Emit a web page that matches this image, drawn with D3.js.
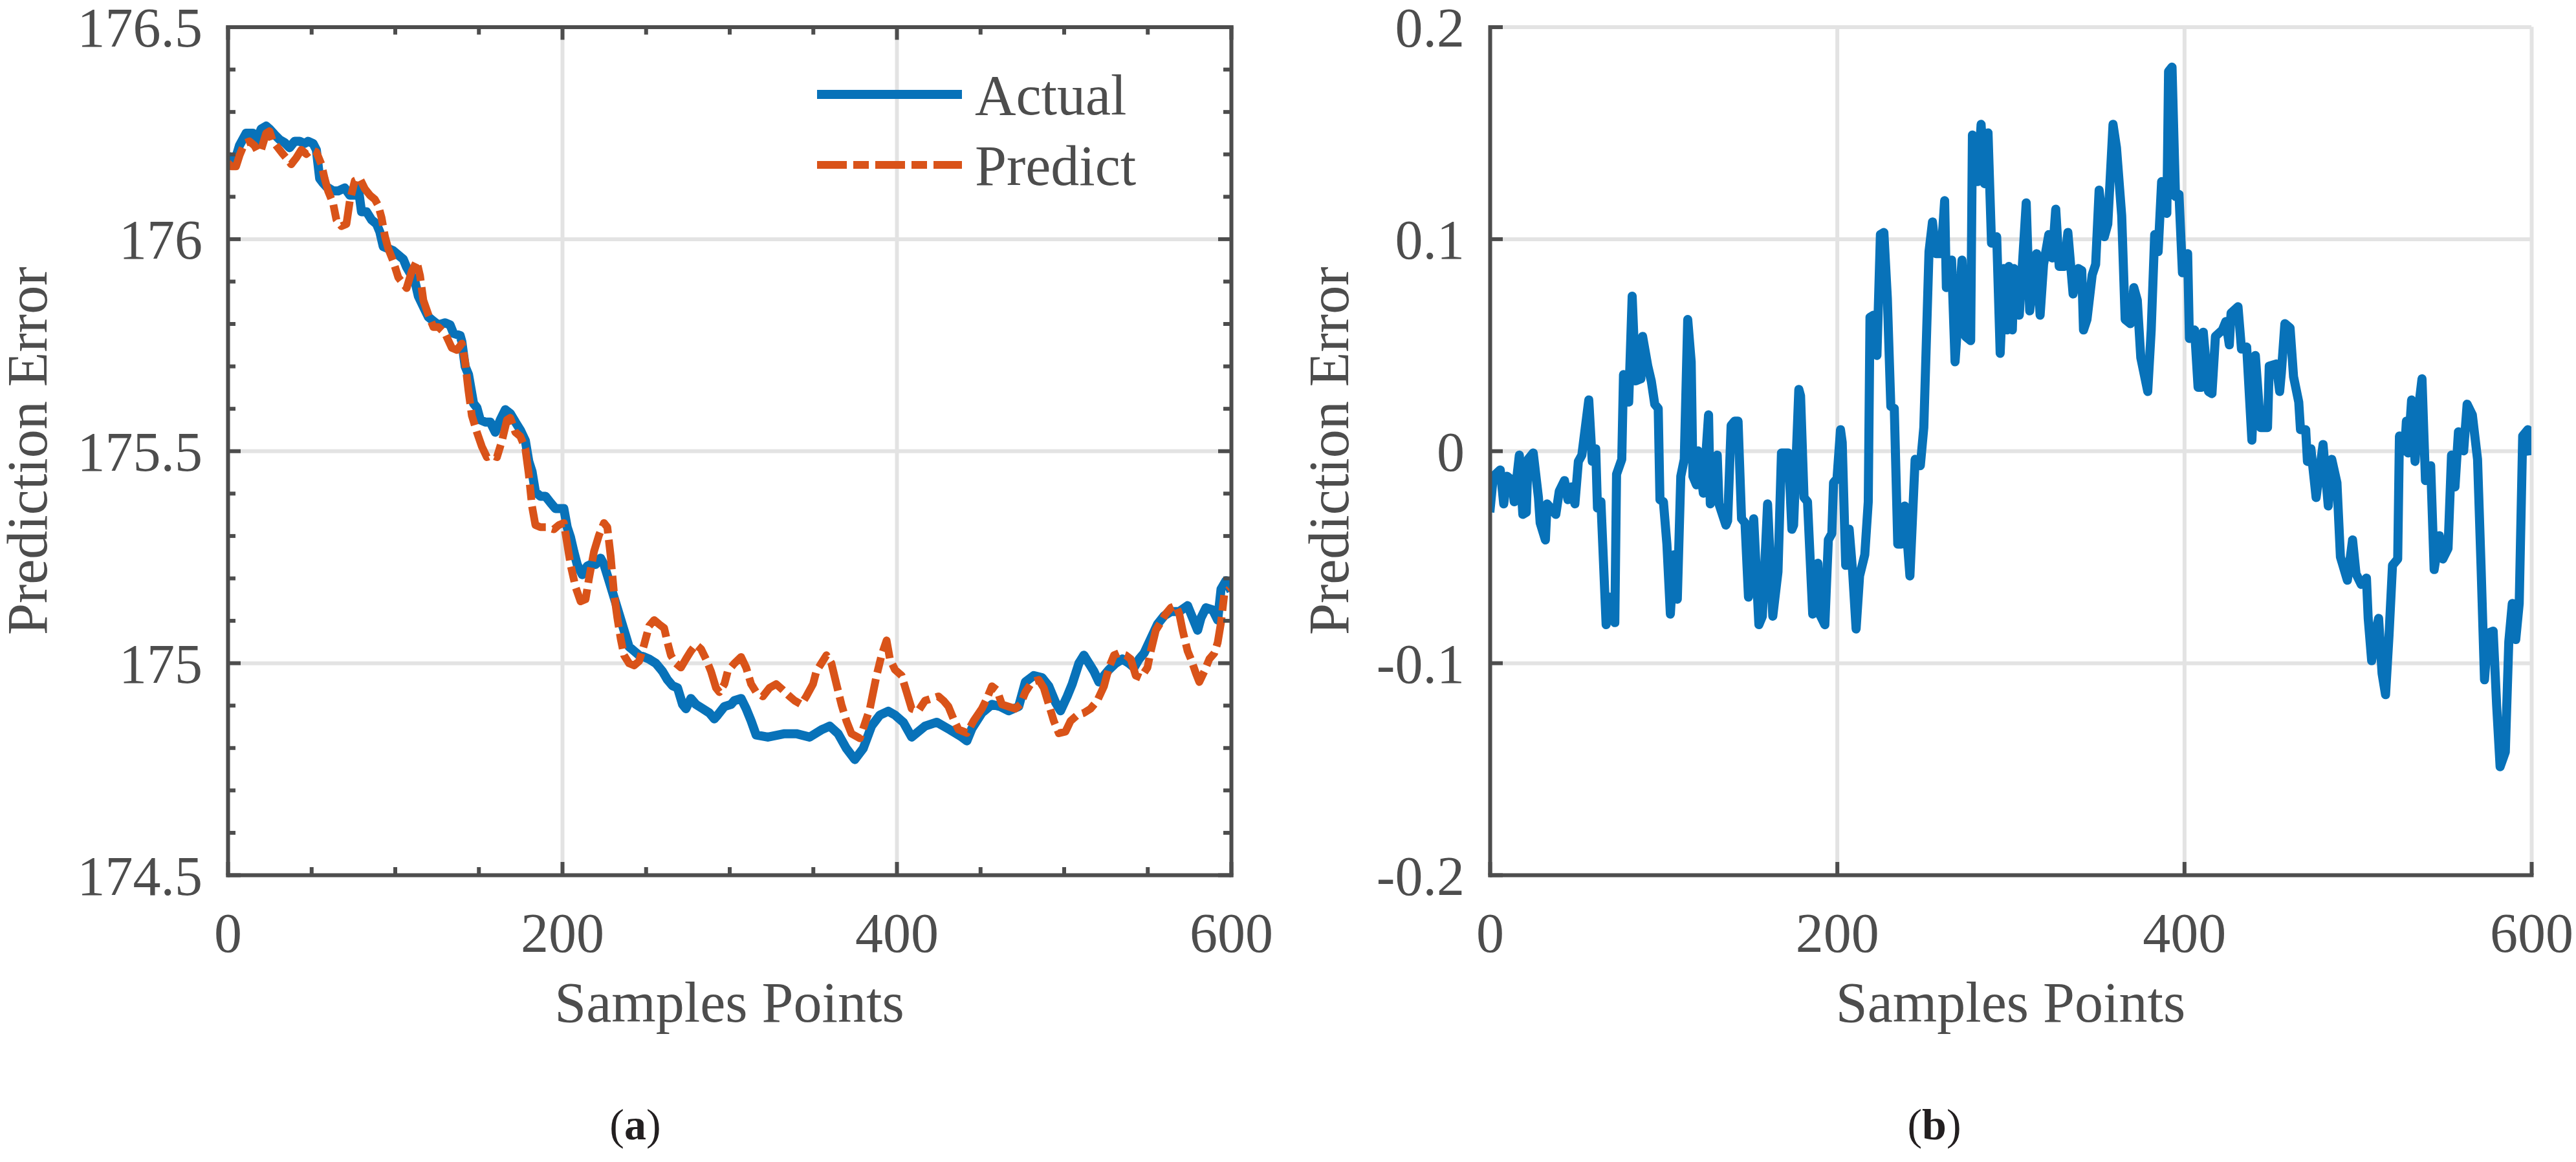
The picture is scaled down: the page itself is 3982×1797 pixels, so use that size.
<!DOCTYPE html>
<html>
<head>
<meta charset="utf-8">
<script src="https://cdn.jsdelivr.net/npm/d3@7"></script>
<style>
  body { margin: 0; background: #fff; }
  svg text { font-family: "Liberation Serif", "Times New Roman", serif; }
</style>
</head>
<body>
<div id="chart"></div>
<script>
var svgWidth = 3982;
var svgHeight = 1797;

// ---- data ----
var sampleTicks = [0, 200, 400, 600];
var sampleMinorTicks = [50, 100, 150, 250, 300, 350, 450, 500, 550];

var valueTicks = [174.5, 175, 175.5, 176, 176.5];
var valueTickLabels = ["174.5", "175", "175.5", "176", "176.5"];
var valueMinorTicks = [174.6, 174.7, 174.8, 174.9, 175.1, 175.2, 175.3, 175.4,
  175.6, 175.7, 175.8, 175.9, 176.1, 176.2, 176.3, 176.4];

var errorTicks = [-0.2, -0.1, 0, 0.1, 0.2];
var errorTickLabels = ["-0.2", "-0.1", "0", "0.1", "0.2"];

var seriesNames = ["Actual", "Predict"];

var actualSamples = [0, 2, 4, 7, 11, 15, 17, 20, 23, 25, 28, 31, 34, 37, 40, 43, 46, 48, 51, 53,
  55, 57, 59, 63, 66, 70, 73, 76, 78, 80, 83, 86, 89, 91, 93, 96, 99, 102, 105, 107,
  110, 112, 114, 117, 120, 123, 126, 130, 133, 135, 139, 140, 142, 144, 147, 149, 151, 154, 157, 160,
  163, 166, 169, 172, 175, 178, 180, 182, 184, 187, 190, 193, 196, 199, 201, 203, 205, 207, 209, 212,
  215, 217, 220, 223, 225, 228, 231, 234, 237, 240, 243, 246, 249, 252, 256, 260, 263, 266, 269, 272,
  274, 277, 280, 284, 288, 291, 293, 297, 301, 303, 307, 310, 313, 316, 323, 333, 340, 348, 355, 360,
  365, 370, 375, 380, 385, 390, 395, 399, 404, 409, 417, 424, 432, 439, 442, 445, 451, 457, 462, 467,
  473, 477, 482, 487, 491, 495, 498, 502, 505, 509, 512, 515, 518, 521, 524, 527, 531, 535, 539, 542,
  545, 548, 552, 556, 560, 564, 569, 574, 577, 580, 582, 585, 589, 592, 594, 597, 600];
var actualValues = [176.196, 176.19, 176.18, 176.22, 176.249, 176.249, 176.23, 176.259, 176.266, 176.259,
  176.246, 176.234, 176.227, 176.215, 176.23, 176.23, 176.225, 176.23, 176.225, 176.21,
  176.142, 176.132, 176.123, 176.113, 176.113, 176.12, 176.103, 176.103, 176.123, 176.064,
  176.064, 176.045, 176.035, 176.016, 175.982, 175.977, 175.972, 175.962, 175.952, 175.933,
  175.913, 175.899, 175.865, 175.84, 175.816, 175.806, 175.797, 175.802, 175.797, 175.777,
  175.772, 175.758, 175.699, 175.68, 175.612, 175.602, 175.573, 175.568, 175.568, 175.544,
  175.573, 175.597, 175.588, 175.568, 175.549, 175.524, 175.476, 175.451, 175.403, 175.393,
  175.393, 175.378, 175.364, 175.364, 175.364, 175.32, 175.296, 175.262, 175.232, 175.208,
  175.228, 175.232, 175.232, 175.247, 175.232, 175.194, 175.155, 175.116, 175.077, 175.038,
  175.028, 175.018, 175.014, 175.009, 174.999, 174.98, 174.96, 174.946, 174.941, 174.902,
  174.892, 174.916, 174.902, 174.892, 174.882, 174.868, 174.877, 174.897, 174.902, 174.911,
  174.916, 174.892, 174.863, 174.83, 174.825, 174.833, 174.833, 174.825, 174.842, 174.851,
  174.833, 174.798, 174.772, 174.798, 174.851, 174.877, 174.886, 174.877, 174.86, 174.825,
  174.851, 174.86, 174.842, 174.825, 174.816, 174.845, 174.882, 174.902, 174.897, 174.887,
  174.897, 174.955, 174.97, 174.965, 174.945, 174.907, 174.887, 174.921, 174.95, 174.999,
  175.018, 174.999, 174.98, 174.955, 174.97, 174.984, 174.999, 175.009, 174.999, 174.989,
  175.009, 175.023, 175.057, 175.091, 175.111, 175.121, 175.121, 175.135, 175.106, 175.077,
  175.106, 175.13, 175.125, 175.101, 175.174, 175.194, 175.169];

var predictSamples = [0, 2, 5, 7, 10, 13, 16, 18, 20, 23, 25, 27, 30, 33, 36, 38, 41, 44, 47, 50,
  53, 56, 58, 60, 63, 65, 68, 71, 73, 76, 79, 82, 85, 88, 90, 92, 94, 96, 99, 102,
  105, 107, 110, 113, 115, 117, 120, 123, 126, 130, 134, 137, 140, 142, 144, 146, 149, 152, 155, 158,
  161, 164, 167, 169, 172, 175, 178, 180, 182, 184, 187, 191, 195, 198, 201, 203, 205, 208, 211, 214,
  216, 219, 222, 225, 227, 229, 231, 233, 235, 237, 240, 243, 246, 249, 252, 255, 258, 261, 263, 265,
  268, 271, 274, 277, 280, 283, 286, 289, 292, 294, 297, 299, 303, 307, 310, 313, 316, 320, 324, 328,
  332, 336, 339, 343, 346, 350, 352, 355, 358, 361, 364, 367, 370, 373, 378, 384, 388, 391, 394, 396,
  399, 403, 406, 409, 413, 417, 421, 425, 428, 431, 434, 437, 442, 446, 451, 454, 457, 460, 463, 467,
  471, 474, 477, 481, 485, 488, 491, 494, 497, 501, 504, 508, 512, 516, 520, 524, 527, 530, 533, 537,
  540, 543, 546, 550, 552, 555, 558, 561, 564, 567, 569, 571, 574, 576, 579, 581, 584, 587, 590, 592,
  594, 596, 599];
var predictValues = [176.18, 176.171, 176.171, 176.196, 176.225, 176.23, 176.22, 176.205, 176.21, 176.249,
  176.254, 176.23, 176.215, 176.2, 176.186, 176.176, 176.191, 176.21, 176.2, 176.21,
  176.205, 176.176, 176.142, 176.113, 176.084, 176.045, 176.03, 176.035, 176.089, 176.137,
  176.142, 176.118, 176.103, 176.093, 176.079, 176.05, 176.006, 175.977, 175.947, 175.909,
  175.894, 175.884, 175.923, 175.947, 175.913, 175.855, 175.821, 175.792, 175.792, 175.777,
  175.743, 175.738, 175.753, 175.709, 175.641, 175.583, 175.544, 175.51, 175.485, 175.49,
  175.485, 175.524, 175.573, 175.578, 175.544, 175.534, 175.505, 175.446, 175.369, 175.325,
  175.32, 175.32, 175.315, 175.325, 175.33, 175.281, 175.232, 175.179, 175.145, 175.15,
  175.198, 175.262, 175.301, 175.33, 175.32, 175.252, 175.164, 175.106, 175.057, 175.018,
  174.999, 174.994, 175.004, 175.043, 175.087, 175.101, 175.091, 175.082, 175.048, 175.018,
  174.999, 174.989, 175.009, 175.028, 175.043, 175.033, 175.009, 174.98, 174.941, 174.931,
  174.95, 174.98, 174.999, 175.014, 174.989, 174.95, 174.931, 174.921, 174.941, 174.95,
  174.936, 174.921, 174.911, 174.902, 174.921, 174.95, 174.98, 174.999, 175.018, 174.999,
  174.95, 174.902, 174.863, 174.833, 174.822, 174.892, 174.97, 175.018, 175.053, 175.009,
  174.984, 174.97, 174.931, 174.892, 174.887, 174.911, 174.916, 174.921, 174.911, 174.897,
  174.868, 174.843, 174.835, 174.863, 174.892, 174.916, 174.945, 174.936, 174.902, 174.897,
  174.892, 174.902, 174.931, 174.955, 174.96, 174.941, 174.902, 174.863, 174.834, 174.838,
  174.863, 174.877, 174.882, 174.892, 174.911, 174.945, 174.989, 175.018, 175.023, 175.018,
  175.009, 174.97, 174.965, 174.989, 175.028, 175.077, 175.096, 175.116, 175.13, 175.135,
  175.116, 175.077, 175.028, 175.009, 174.975, 174.955, 174.98, 175.009, 175.023, 175.048,
  175.096, 175.164, 175.174];

var errorSamples = [0, 2, 6, 8, 10, 13, 14, 17, 19, 21, 22, 25, 28, 29, 32, 33, 38, 40, 43, 45,
  47, 49, 51, 53, 57, 59, 61, 62, 64, 67, 69, 72, 73, 76, 77, 80, 82, 84, 87, 88,
  91, 93, 95, 97, 98, 100, 102, 104, 106, 108, 110, 112, 114, 116, 117, 119, 120, 123, 126, 127,
  131, 132, 136, 137, 139, 141, 143, 145, 147, 149, 152, 155, 157, 160, 163, 166, 168, 172, 174, 175,
  178, 179, 181, 183, 186, 189, 190, 193, 195, 197, 198, 200, 202, 203, 205, 207, 209, 211, 213, 216,
  218, 219, 221, 223, 225, 227, 229, 231, 233, 235, 237, 239, 242, 245, 248, 250, 253, 255, 257, 260,
  262, 263, 266, 268, 272, 274, 277, 278, 281, 283, 285, 287, 289, 292, 294, 296, 298, 299, 301, 302,
  305, 309, 311, 315, 317, 319, 322, 324, 326, 328, 331, 333, 336, 339, 341, 342, 344, 347, 349, 351,
  354, 356, 359, 361, 364, 366, 369, 371, 373, 375, 379, 381, 383, 385, 387, 390, 391, 393, 395, 397,
  399, 402, 403, 406, 408, 410, 411, 414, 416, 418, 422, 424, 426, 427, 431, 433, 436, 439, 441, 444,
  448, 449, 453, 455, 456, 458, 461, 463, 466, 467, 470, 471, 473, 476, 480, 483, 485, 488, 490, 494,
  497, 499, 502, 505, 506, 508, 510, 512, 514, 516, 518, 520, 523, 524, 527, 528, 529, 531, 533, 535,
  537, 539, 542, 544, 547, 549, 552, 554, 556, 558, 561, 563, 566, 569, 571, 573, 575, 578, 580, 582,
  585, 587, 589, 591, 593, 595, 598, 600];
var errorValues = [-0.029, -0.012, -0.009, -0.025, -0.012, -0.014, -0.024, -0.002, -0.030, -0.029,
  -0.004, -0.001, -0.022, -0.034, -0.042, -0.025, -0.030, -0.019, -0.014, -0.023,
  -0.017, -0.025, -0.005, -0.002, 0.024, -0.005, 0.001, -0.027, -0.024, -0.082,
  -0.069, -0.081, -0.011, -0.004, 0.036, 0.023, 0.073, 0.033, 0.034, 0.054,
  0.040, 0.033, 0.022, 0.020, -0.023, -0.024, -0.044, -0.077, -0.049, -0.070,
  -0.012, -0.004, 0.062, 0.042, -0.012, -0.016, 0, -0.020, 0.017, -0.025,
  -0.002, -0.025, -0.035, -0.033, 0.012, 0.014, 0.014, -0.032, -0.034, -0.069,
  -0.032, -0.082, -0.078, -0.025, -0.078, -0.057, -0.001, -0.001, -0.037, -0.035,
  0.029, 0.026, -0.022, -0.024, -0.077, -0.053, -0.077, -0.082, -0.042, -0.039,
  -0.015, -0.013, 0.010, 0.004, -0.054, -0.037, -0.057, -0.084, -0.059, -0.049,
  -0.024, 0.063, 0.064, 0.045, 0.102, 0.103, 0.072, 0.021, 0.020, -0.044,
  -0.044, -0.026, -0.059, -0.004, -0.007, 0.011, 0.094, 0.108, 0.093, 0.093,
  0.118, 0.077, 0.090, 0.042, 0.090, 0.054, 0.052, 0.149, 0.127, 0.154,
  0.126, 0.150, 0.098, 0.101, 0.046, 0.086, 0.057, 0.087, 0.057, 0.086,
  0.064, 0.117, 0.066, 0.093, 0.064, 0.088, 0.102, 0.091, 0.114, 0.087,
  0.087, 0.103, 0.074, 0.086, 0.085, 0.057, 0.062, 0.083, 0.088, 0.123,
  0.101, 0.107, 0.154, 0.143, 0.111, 0.062, 0.060, 0.077, 0.071, 0.044,
  0.028, 0.057, 0.102, 0.094, 0.127, 0.112, 0.179, 0.181, 0.120, 0.121,
  0.084, 0.093, 0.053, 0.057, 0.030, 0.030, 0.056, 0.028, 0.027, 0.054,
  0.057, 0.061, 0.050, 0.065, 0.068, 0.048, 0.049, 0.005, 0.045, 0.011,
  0.011, 0.040, 0.041, 0.028, 0.037, 0.060, 0.058, 0.035, 0.023, 0.010,
  0.010, -0.005, 0.001, -0.022, 0.003, -0.026, -0.004, -0.015, -0.050, -0.061,
  -0.042, -0.058, -0.063, -0.060, -0.079, -0.099, -0.087, -0.079, -0.105, -0.115,
  -0.087, -0.054, -0.051, 0.007, 0, 0.014, -0.001, 0.024, -0.005, 0.020,
  0.034, -0.014, -0.007, -0.056, -0.040, -0.051, -0.046, -0.002, -0.017, 0.009,
  0, 0.022, 0.017, -0.004, -0.054, -0.108, -0.086, -0.085, -0.120, -0.149,
  -0.142, -0.090, -0.072, -0.089, -0.072, 0.007, 0.010, -0.002];

// ---- layout ----
var axisColor = "#4d4d4d";
var gridColor = "#e3e3e3";
var blue = "#0872b9";
var orange = "#d95319";

var panelA = {left: 352, top: 41.5, width: 1551, height: 1311.5};
var panelB = {left: 2303, top: 41.5, width: 1610, height: 1311.5};

var svg = d3.select("#chart")
  .append("svg")
  .attr("width", svgWidth)
  .attr("height", svgHeight)
  .style("display", "block");

svg.append("rect")
  .attr("width", svgWidth)
  .attr("height", svgHeight)
  .attr("fill", "#fff");

function zip(xs, ys) {
  return xs.map((s, i) => ({s: s, v: ys[i]}));
}

function styleAxis(axisGroup, fontSize) {
  axisGroup
    .attr("color", axisColor)
    .attr("font-size", fontSize);
  axisGroup.select(".domain")
    .attr("stroke-width", 6)
    .attr("stroke-linecap", "square");
  axisGroup.selectAll(".tick line")
    .attr("stroke-width", 6);
  axisGroup.selectAll(".tick text")
    .attr("fill", axisColor);
}

function drawPanel(panel, id, yDomain, yTicks, yLabels, boxed) {
  var w = panel.width;
  var h = panel.height;

  var g = svg.append("g")
    .attr("transform", `translate(${panel.left}, ${panel.top})`);

  var xScale = d3.scaleLinear().domain([0, 600]).range([0, w]);
  var yScale = d3.scaleLinear().domain(yDomain).range([h, 0]);

  // grid
  var xGrid = g.append("g")
    .attr("transform", `translate(0, ${h})`)
    .call(d3.axisBottom(xScale).tickValues(sampleTicks).tickSize(-h).tickFormat(""));
  var yGrid = g.append("g")
    .call(d3.axisLeft(yScale).tickValues(yTicks).tickSize(-w).tickFormat(""));
  [xGrid, yGrid].forEach(grid => {
    grid.select(".domain").remove();
    grid.selectAll(".tick line")
      .attr("stroke", gridColor)
      .attr("stroke-width", 6);
  });

  g.append("clipPath")
    .attr("id", "clip-" + id)
    .append("rect")
    .attr("width", w)
    .attr("height", h);

  // data goes here, below the axes
  var plotArea = g.append("g")
    .attr("clip-path", `url(#clip-${id})`);

  // axes
  var bottomAxis = g.append("g")
    .attr("transform", `translate(0, ${h})`)
    .call(d3.axisBottom(xScale).tickValues(sampleTicks)
      .tickSizeInner(-20).tickSizeOuter(0).tickPadding(58));
  styleAxis(bottomAxis, 86);

  var leftAxis = g.append("g")
    .call(d3.axisLeft(yScale).tickValues(yTicks)
      .tickFormat((d, i) => yLabels[i])
      .tickSizeInner(-20).tickSizeOuter(0).tickPadding(39));
  styleAxis(leftAxis, 86);
  leftAxis.selectAll(".tick text").attr("dy", "0.35em");

  if (boxed) {
    var topAxis = g.append("g")
      .call(d3.axisTop(xScale).tickValues(sampleTicks)
        .tickSizeInner(-20).tickSizeOuter(0).tickFormat(""));
    styleAxis(topAxis, 86);

    var rightAxis = g.append("g")
      .attr("transform", `translate(${w}, 0)`)
      .call(d3.axisRight(yScale).tickValues(yTicks)
        .tickSizeInner(-20).tickSizeOuter(0).tickFormat(""));
    styleAxis(rightAxis, 86);

    var minorAxes = [
      g.append("g").attr("transform", `translate(0, ${h})`)
        .call(d3.axisBottom(xScale).tickValues(sampleMinorTicks).tickSizeInner(-12).tickSizeOuter(0).tickFormat("")),
      g.append("g")
        .call(d3.axisTop(xScale).tickValues(sampleMinorTicks).tickSizeInner(-12).tickSizeOuter(0).tickFormat("")),
      g.append("g")
        .call(d3.axisLeft(yScale).tickValues(valueMinorTicks).tickSizeInner(-12).tickSizeOuter(0).tickFormat("")),
      g.append("g").attr("transform", `translate(${w}, 0)`)
        .call(d3.axisRight(yScale).tickValues(valueMinorTicks).tickSizeInner(-12).tickSizeOuter(0).tickFormat(""))
    ];
    minorAxes.forEach(a => {
      styleAxis(a, 86);
      a.select(".domain").remove();
    });
  }

  // x title
  g.append("text")
    .attr("x", w / 2)
    .attr("y", h + 227)
    .attr("text-anchor", "middle")
    .attr("font-size", 88)
    .attr("fill", axisColor)
    .text("Samples Points");

  return {g: g, plotArea: plotArea, x: xScale, y: yScale};
}

var chartA = drawPanel(panelA, "a", [174.5, 176.5], valueTicks, valueTickLabels, true);
var chartB = drawPanel(panelB, "b", [-0.2, 0.2], errorTicks, errorTickLabels, false);

// (a) actual vs predict
var lineA = d3.line()
  .x(d => chartA.x(d.s))
  .y(d => chartA.y(d.v));

chartA.plotArea.append("path")
  .datum(zip(actualSamples, actualValues))
  .attr("d", lineA)
  .attr("fill", "none")
  .attr("stroke", blue)
  .attr("stroke-width", 14)
  .attr("stroke-linejoin", "round");

chartA.plotArea.append("path")
  .datum(zip(predictSamples, predictValues))
  .attr("d", lineA)
  .attr("fill", "none")
  .attr("stroke", orange)
  .attr("stroke-width", 12)
  .attr("stroke-dasharray", "46,10,24,10")
  .attr("stroke-linejoin", "round");

// (b) prediction error
var lineB = d3.line()
  .x(d => chartB.x(d.s))
  .y(d => chartB.y(d.v));

chartB.plotArea.append("path")
  .datum(zip(errorSamples, errorValues))
  .attr("d", lineB)
  .attr("fill", "none")
  .attr("stroke", blue)
  .attr("stroke-width", 14)
  .attr("stroke-linejoin", "round");

// legend
var legend = chartA.g.append("g")
  .attr("transform", `translate(${panelA.width - 640}, 104.5)`);

var legendItems = legend.selectAll("g")
  .data(seriesNames)
  .enter()
  .append("g")
  .attr("transform", (d, i) => `translate(0, ${i * 109})`);

legendItems.append("line")
  .attr("x1", 0)
  .attr("x2", 224)
  .attr("stroke", (d, i) => i === 0 ? blue : orange)
  .attr("stroke-width", (d, i) => i === 0 ? 14 : 12)
  .attr("stroke-dasharray", (d, i) => i === 0 ? null : "46,10,24,10");

legendItems.append("text")
  .attr("x", 244)
  .attr("y", 31)
  .attr("font-size", 88)
  .attr("fill", axisColor)
  .text(d => d);

// y titles
svg.append("text")
  .attr("transform", `translate(${panelA.left - 280}, ${panelA.top + panelA.height / 2}) rotate(-90)`)
  .attr("text-anchor", "middle")
  .attr("font-size", 88)
  .attr("fill", axisColor)
  .text("Prediction Error");

svg.append("text")
  .attr("transform", `translate(${panelB.left - 219}, ${panelB.top + panelB.height / 2}) rotate(-90)`)
  .attr("text-anchor", "middle")
  .attr("font-size", 88)
  .attr("fill", axisColor)
  .text("Prediction Error");

// sub captions
function caption(x, letter) {
  var t = svg.append("text")
    .attr("x", x)
    .attr("y", 1762)
    .attr("text-anchor", "middle")
    .attr("font-size", 68)
    .attr("fill", "#231f20");
  t.append("tspan").text("(");
  t.append("tspan").attr("font-weight", "bold").text(letter);
  t.append("tspan").text(")");
}

caption(panelA.left + 630, "a");
caption(panelB.left + 687, "b");
</script>
</body>
</html>
